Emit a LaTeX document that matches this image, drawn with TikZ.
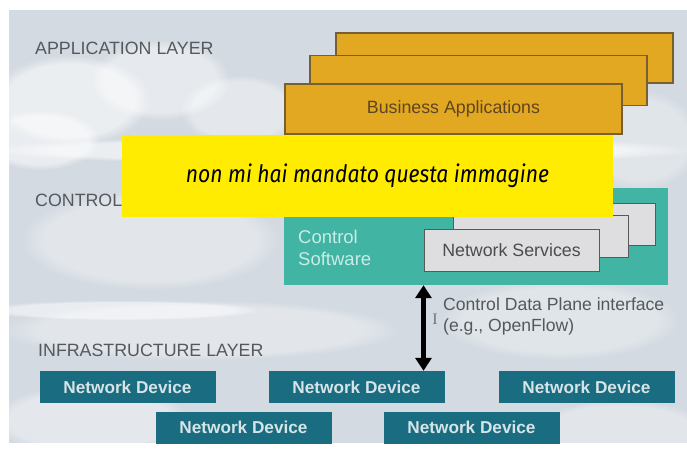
\documentclass[tikz,border=0pt]{standalone}
\usepackage{fontspec}
\setmainfont{Liberation Sans}
\newfontfamily\yfont[FakeStretch=0.88]{Fira Sans}
\newfontfamily\serf{Liberation Serif}
\usetikzlibrary{arrows.meta,fadings}
\definecolor{bgc}{RGB}{211,218,225}
\definecolor{appc}{RGB}{226,168,34}
\definecolor{appb}{RGB}{120,95,50}
\definecolor{apptxt}{RGB}{95,70,30}
\definecolor{ctlc}{RGB}{66,180,164}
\definecolor{ctltxt}{RGB}{200,236,230}
\definecolor{svcc}{RGB}{222,222,224}
\definecolor{devc}{RGB}{26,108,128}
\definecolor{lblc}{RGB}{85,88,92}
\definecolor{yel}{RGB}{255,236,0}
\tikzset{
  layerlbl/.style={font=\fontsize{17.8}{19}\selectfont, text=lblc, anchor=west, inner sep=0pt},
  appbox/.style={draw=appb, line width=1.2pt, fill=appc, minimum width=337pt, minimum height=50pt, inner sep=0pt, font=\fontsize{17.8}{19}\selectfont, text=apptxt},
  svcbox/.style={draw=black!65, line width=1pt, fill=svcc, minimum width=175pt, minimum height=42pt, inner sep=0pt, font=\fontsize{17.8}{19}\selectfont, text=black!70},
  devbox/.style={fill=devc, minimum width=176pt, minimum height=32pt, inner sep=0pt, font=\bfseries\fontsize{17.2}{19}\selectfont, text=white!82!devc},
  ctltext/.style={font=\fontsize{18.5}{20}\selectfont, text=ctltxt, anchor=west, inner sep=0pt},
  cloud/.style={fill=white, path fading=circle with fuzzy edge 20 percent},
  dblarrow/.style={line width=5pt, {Triangle[width=16pt,length=13pt]}-{Triangle[width=16pt,length=13pt]}}
}
\begin{document}
\begin{tikzpicture}[x=1pt,y=-1pt]
\useasboundingbox (0,0) rectangle (687,452);
\fill[white] (0,0) rectangle (687,452);
\fill[bgc] (9,10) rectangle (687,443);
% clouds
\begin{scope}
\clip (9,10) rectangle (687,443);
\fill[cloud, opacity=0.55] (70,100) ellipse (80 and 45);
\fill[cloud, opacity=0.45] (160,80) ellipse (70 and 40);
\fill[cloud, opacity=0.4] (240,110) ellipse (60 and 35);
\fill[cloud, opacity=0.5] (40,140) ellipse (60 and 30);
\fill[cloud, opacity=0.55] (340,150) ellipse (360 and 14);
\fill[cloud, opacity=0.35] (150,240) ellipse (130 and 50);
\fill[cloud, opacity=0.5] (120,310) ellipse (140 and 10);
\fill[cloud, opacity=0.35] (200,330) ellipse (200 and 30);
\fill[cloud, opacity=0.4] (90,420) ellipse (100 and 35);
\fill[cloud, opacity=0.35] (620,430) ellipse (90 and 30);
\fill[cloud, opacity=0.3] (560,320) ellipse (120 and 40);
\fill[cloud, opacity=0.3] (640,140) ellipse (60 and 50);
\end{scope}
% labels
\node[layerlbl] (lapp) at (35,48) {APPLICATION LAYER};
\node[layerlbl] (lctl) at (35,200) {CONTROL};
\node[layerlbl] (linf) at (38,350) {INFRASTRUCTURE LAYER};
% application boxes
\node[appbox] (app3) at (504.5,58) {};
\node[appbox] (app2) at (478.5,80.5) {};
\node[appbox] (app1) at (453.5,109) {Business Applications};
% control box
\node[fill=ctlc, minimum width=384pt, minimum height=97pt, inner sep=0pt] (ctl) at (476,236.5) {};
\node[ctltext] (t1) at (298,237) {Control};
\node[ctltext] (t2) at (298,259) {Software};
\node[svcbox] (svc3) at (567.5,224) {};
\node[svcbox] (svc2) at (540.5,236) {};
\node[svcbox] (ns) at (511.5,250) {Network Services};
% yellow overlay
\node[fill=yel, minimum width=491pt, minimum height=82pt, inner sep=0pt, font=\yfont\itshape\fontsize{24}{27}\selectfont, text=black] (yel) at (367.5,176) {non mi hai mandato questa immagine};
% devices
\node[devbox] (nd1) at (127.5,387) {Network Device};
\node[devbox] (nd2) at (356.5,387) {Network Device};
\node[devbox] (nd3) at (586.5,387) {Network Device};
\node[devbox] (nd4) at (243.5,427.5) {Network Device};
\node[devbox] (nd5) at (471.5,427.5) {Network Device};
% interface arrow
\draw[dblarrow] (ns.west |- ctl.south) -- (ns.west |- nd2.north);
\node[font=\serf\fontsize{16}{16}\selectfont, text=black!55, inner sep=0pt] (cur) at (435,319) {I};
\node[font=\fontsize{17.6}{20.5}\selectfont, text=lblc, anchor=north west, align=left, inner sep=0pt] (cdp) at (443,298) {Control Data Plane interface\\(e.g., OpenFlow)};
\end{tikzpicture}
\end{document}
